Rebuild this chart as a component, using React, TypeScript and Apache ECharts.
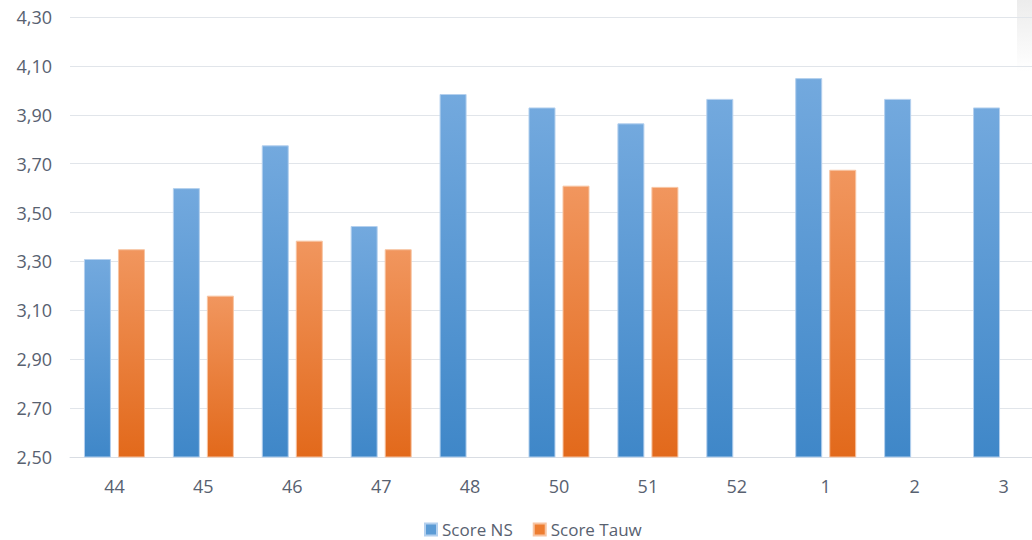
import React, { useEffect, useRef } from "react";
import * as echarts from "echarts";

const categories = ["44", "45", "46", "47", "48", "50", "51", "52", "1", "2", "3"];
const scoreNS = [3.31, 3.6, 3.775, 3.445, 3.985, 3.93, 3.865, 3.965, 4.05, 3.965, 3.93];
const scoreTauw: (number | null)[] = [3.35, 3.16, 3.385, 3.35, null, 3.61, 3.605, null, 3.675, null, null];
const seriesNames = ["Score NS", "Score Tauw"];

const FONT = "'Open Sans', 'Noto Sans', sans-serif";
const TEXT = "#586170";

export default function App() {
  const ref = useRef<HTMLDivElement>(null);
  useEffect(() => {
    if (!ref.current) return;
    const chart = echarts.init(ref.current, null, { renderer: "svg" });
    const grad = (top: string, bottom: string) =>
      new echarts.graphic.LinearGradient(0, 0, 0, 1, [
        { offset: 0, color: top },
        { offset: 1, color: bottom },
      ]);
    chart.setOption({
      animation: false,
      backgroundColor: "#ffffff",
      grid: { left: 70, top: 17, height: 440, width: 978, outerBoundsMode: "none", containLabel: false },
      legend: {
        left: 424,
        top: 521,
        padding: 0,
        itemWidth: 12,
        itemHeight: 12,
        itemGap: 20,
        icon: "rect",
        textStyle: { color: TEXT, fontSize: 17, lineHeight: 17, fontFamily: FONT },
        data: [
          { name: seriesNames[0], itemStyle: { color: "#5b9bd5" } },
          { name: seriesNames[1], itemStyle: { color: "#ed7d31" } },
        ],
      },
      xAxis: {
        type: "category",
        data: categories,
        axisTick: { show: false },
        axisLine: { lineStyle: { color: "#d9dde3", width: 1 } },
        axisLabel: { color: TEXT, fontSize: 18, fontFamily: FONT, margin: 20 },
      },
      yAxis: {
        type: "value",
        min: 2.5,
        max: 4.3,
        interval: 0.2,
        axisLine: { show: false },
        axisTick: { show: false },
        splitLine: { lineStyle: { color: "#e1e5ea", width: 1 } },
        axisLabel: {
          color: TEXT,
          fontSize: 18,
          fontFamily: FONT,
          margin: 18,
          formatter: (v: number) => v.toFixed(2).replace(".", ","),
        },
      },
      series: [
        {
          name: seriesNames[0],
          type: "bar",
          data: scoreNS,
          barWidth: 27,
          barGap: "26%",
          itemStyle: {
            color: grad("#73a9de", "#3f87c8"),
            borderColor: "#b4d0ee",
            borderWidth: 1,
          },
        },
        {
          name: seriesNames[1],
          type: "bar",
          data: scoreTauw,
          barWidth: 27,
          itemStyle: {
            color: grad("#f1965e", "#e2691b"),
            borderColor: "#f7c4a2",
            borderWidth: 1,
          },
        },
      ],
      graphic: [
        {
          type: "rect",
          right: 0,
          top: 0,
          shape: { width: 15, height: 72 },
          style: {
            fill: new echarts.graphic.LinearGradient(0, 0, 0, 1, [
              { offset: 0, color: "#ececec" },
              { offset: 1, color: "#ffffff" },
            ]),
          },
        },
      ],
    });
    return () => chart.dispose();
  }, []);
  return (
    <div
      ref={ref}
      style={{ position: "fixed", left: 0, top: 0, width: 1032, height: 540 }}
    />
  );
}
